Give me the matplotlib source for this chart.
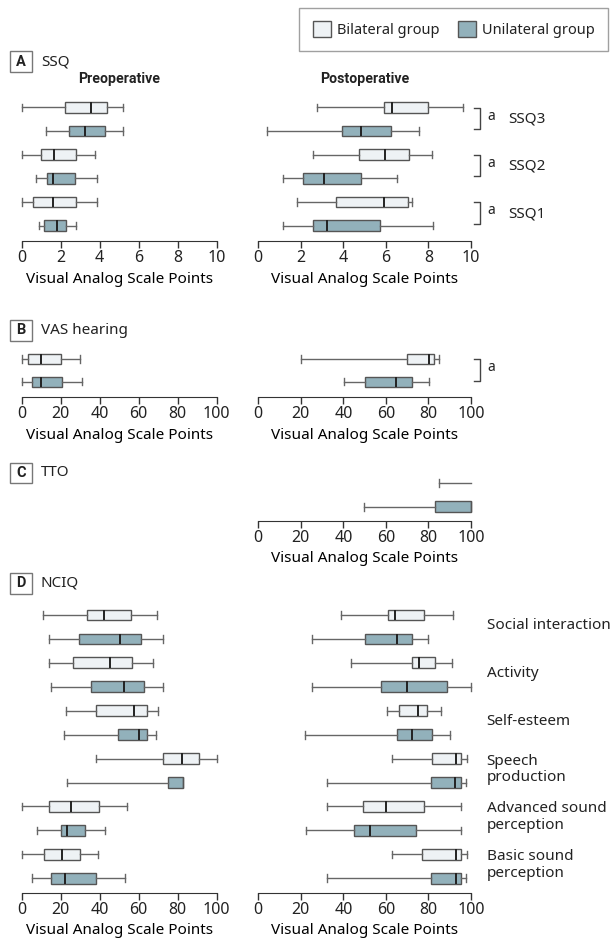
import matplotlib
matplotlib.use('Agg')
import matplotlib.pyplot as plt
from matplotlib.patches import Rectangle, Patch
from matplotlib.lines import Line2D

plt.rcParams['font.family'] = ['Noto Sans', 'DejaVu Sans']
plt.rcParams['text.color'] = '#222222'

# ================= data =================
# every row: [whisker low, Q1, median, Q3, whisker high]
# rows go top -> bottom, bilateral / unilateral alternating
ssq_labels = ['SSQ3', 'SSQ2', 'SSQ1']
ssq_sig = [True, True, True]
ssq_pre = [[0.0, 2.22, 3.54, 4.36, 5.18],
           [1.25, 2.44, 3.26, 4.27, 5.21],
           [0.0, 0.99, 1.68, 2.79, 3.76],
           [0.74, 1.28, 1.62, 2.74, 3.85],
           [0.0, 0.60, 1.59, 2.79, 3.88],
           [0.91, 1.15, 1.79, 2.27, 2.79]]
ssq_post = [[2.74, 5.91, 6.29, 7.96, 9.64],
            [0.42, 3.93, 4.84, 6.22, 7.57],
            [2.55, 4.75, 5.94, 7.10, 8.18],
            [1.18, 2.12, 3.09, 4.84, 6.54],
            [1.80, 3.65, 5.92, 7.05, 7.23],
            [1.14, 2.59, 3.21, 5.72, 8.23]]

vas_sig = [True]
vas_pre = [[0.0, 3.1, 9.7, 20.0, 29.9],
           [0.0, 5.1, 9.7, 20.5, 31.1]]
vas_post = [[20.1, 70.0, 80.3, 82.6, 85.0],
            [40.1, 50.0, 64.7, 72.3, 80.3]]

tto_post = [[85.0, 100.0, 100.0, 100.0, 100.0],
            [49.8, 83.1, 100.0, 100.0, 100.0]]

nciq_labels = ['Social interaction', 'Activity', 'Self-esteem',
               'Speech\nproduction', 'Advanced sound\nperception',
               'Basic sound\nperception']
nciq_pre = [[11.1, 33.7, 42.2, 55.9, 69.6],
            [14.2, 29.2, 50.4, 61.2, 72.6],
            [14.2, 26.5, 45.3, 56.8, 67.5],
            [14.9, 35.4, 52.5, 62.9, 72.6],
            [22.6, 38.1, 57.6, 64.1, 70.1],
            [21.9, 49.6, 60.0, 64.4, 68.7],
            [37.9, 72.3, 82.4, 91.1, 100.0],
            [23.1, 75.0, 82.9, 82.9, 82.9],
            [0.3, 14.2, 25.1, 39.8, 54.2],
            [7.7, 20.2, 23.1, 32.5, 42.7],
            [0.3, 11.6, 20.5, 29.9, 39.0],
            [5.3, 15.0, 22.2, 37.9, 53.0]]
nciq_post = [[38.7, 61.1, 64.1, 77.9, 91.7],
             [25.2, 50.2, 65.2, 72.4, 79.9],
             [43.7, 72.4, 75.5, 83.2, 91.0],
             [25.1, 57.5, 69.9, 88.9, 100.0],
             [60.3, 66.3, 75.2, 79.5, 85.9],
             [22.1, 65.2, 72.4, 81.7, 90.0],
             [62.9, 81.8, 92.9, 95.5, 98.0],
             [32.3, 81.3, 92.5, 95.5, 97.8],
             [32.3, 49.1, 60.2, 78.1, 95.1],
             [22.6, 45.1, 52.4, 74.1, 95.1],
             [63.0, 76.8, 92.9, 95.5, 98.0],
             [32.1, 81.3, 92.8, 95.3, 97.8]]

group_names = ['Bilateral group', 'Unilateral group']
BI_COLOR = '#EEF2F5'
UNI_COLOR = '#92B1BB'
EDGE = '#555555'
FS = 11
BOLD = ['Roboto', 'DejaVu Sans']

# ================= layout (pixels) =================
W, H = 610, 941
fig = plt.figure(figsize=(W / 100, H / 100), dpi=100)

LEFT_X = (21.7, 216.7)
RIGHT_X = (258.3, 471.0)


def panel_axes(xs, row_top, row_bot, n, axis_px, pad=0.7):
    sp = (row_bot - row_top) / (n - 1)
    top_px = row_top - pad * sp
    ax = fig.add_axes([xs[0] / W, 1 - axis_px / H, (xs[1] - xs[0]) / W,
                       (axis_px - top_px) / H])
    ax._ylim_wanted = (n - 1 + (axis_px - row_bot) / sp, -pad)
    return ax


def draw_boxes(ax, rows, xmax):
    stats = [dict(whislo=r[0], q1=r[1], med=r[2], q3=r[3], whishi=r[4], fliers=[])
             for r in rows]
    bp = ax.bxp(stats, positions=list(range(len(rows))), widths=0.45,
                orientation='horizontal', patch_artist=True, showfliers=False,
                capwidths=0.32, manage_ticks=False,
                boxprops=dict(edgecolor=EDGE, linewidth=1.0),
                whiskerprops=dict(color='#666666', linewidth=1.0),
                capprops=dict(color='#666666', linewidth=1.0),
                medianprops=dict(color='#222222', linewidth=1.4))
    for i, b in enumerate(bp['boxes']):
        b.set_facecolor(BI_COLOR if i % 2 == 0 else UNI_COLOR)
    for key in bp:
        for a in bp[key]:
            a.set_clip_on(False)
    # collapsed parts are not drawn
    for i, r in enumerate(rows):
        if r[1] == r[3]:
            bp['boxes'][i].set_visible(False)
            bp['medians'][i].set_visible(False)
        elif r[2] == r[3] or r[2] == r[1]:
            bp['medians'][i].set_color(EDGE)
            bp['medians'][i].set_linewidth(1.0)
        if r[4] == r[3]:
            bp['caps'][2 * i + 1].set_visible(False)
        if r[0] == r[1]:
            bp['caps'][2 * i].set_visible(False)
    ax.set_xlim(0, xmax)
    ax.set_ylim(*ax._ylim_wanted)
    step = 2 if xmax == 10 else 20
    ax.set_xticks(range(0, xmax + 1, step))
    ax.set_yticks([])
    for s in ['left', 'top', 'right']:
        ax.spines[s].set_visible(False)
    ax.spines['bottom'].set_color('#333333')
    ax.tick_params(axis='x', length=5, width=1, color='#333333', pad=1.5,
                   labelsize=FS + 0.5, labelcolor='#222222')
    ax.set_xlabel('Visual Analog Scale Points', fontsize=FS, labelpad=4)
    ax.patch.set_visible(False)


def sig_bracket(ax, y0, y1):
    tr = ax.get_yaxis_transform()
    ax.add_line(Line2D([1.014, 1.042, 1.042, 1.014], [y0, y0, y1, y1],
                       transform=tr, color='#444444', lw=1, clip_on=False))
    ax.text(1.075, (y0 + y1) / 2 - 0.1, 'a', transform=tr, fontsize=FS - 1,
            ha='left', va='center')


def panel_label(letter, title, y):
    fig.add_artist(Rectangle((10 / W, 1 - (y + 10.5) / H), 22 / W, 21 / H,
                             transform=fig.transFigure, fc='white', ec='#777777', lw=1))
    fig.text(21 / W, 1 - y / H, letter, ha='center', va='center',
             fontsize=FS - 0.5, fontweight='bold', family=BOLD)
    fig.text(41 / W, 1 - y / H, title, ha='left', va='center', fontsize=FS)


# ----- A: SSQ -----
panel_label('A', 'SSQ', 61.7)
ax = panel_axes(LEFT_X, 107.3, 225.7, 6, 241)
draw_boxes(ax, ssq_pre, 10)
ax = panel_axes(RIGHT_X, 107.3, 225.7, 6, 241)
draw_boxes(ax, ssq_post, 10)
tr = ax.get_yaxis_transform()
for i, (lab, sig) in enumerate(zip(ssq_labels, ssq_sig)):
    if sig:
        sig_bracket(ax, 2 * i + 0.02, 2 * i + 0.92)
    ax.text(1.174, 2 * i + 0.5, lab, transform=tr, fontsize=FS, ha='left', va='center')
fig.text(sum(LEFT_X) / 2 / W, 1 - 79 / H, 'Preoperative', ha='center', va='center',
         fontsize=FS - 0.8, fontweight='bold', family=BOLD)
fig.text(sum(RIGHT_X) / 2 / W, 1 - 79 / H, 'Postoperative', ha='center', va='center',
         fontsize=FS - 0.8, fontweight='bold', family=BOLD)

# ----- B: VAS hearing -----
panel_label('B', 'VAS hearing', 330)
ax = panel_axes(LEFT_X, 359, 381.7, 2, 397.3)
draw_boxes(ax, vas_pre, 100)
ax = panel_axes(RIGHT_X, 359, 381.7, 2, 397.3)
draw_boxes(ax, vas_post, 100)
if vas_sig[0]:
    sig_bracket(ax, 0.02, 0.95)

# ----- C: TTO -----
panel_label('C', 'TTO', 473)
ax = panel_axes(RIGHT_X, 482.7, 506.7, 2, 520.7)
draw_boxes(ax, tto_post, 100)

# ----- D: NCIQ -----
panel_label('D', 'NCIQ', 583.3)
ax = panel_axes(LEFT_X, 615, 878.3, 12, 892.7)
draw_boxes(ax, nciq_pre, 100)
ax = panel_axes(RIGHT_X, 615, 878.3, 12, 892.7)
draw_boxes(ax, nciq_post, 100)
tr = ax.get_yaxis_transform()
for i, lab in enumerate(nciq_labels):
    ax.text(1.074, 2 * i + 0.45, lab, transform=tr, fontsize=FS, ha='left',
            va='center', linespacing=1.15)

# ----- legend -----
handles = [Patch(facecolor=BI_COLOR, edgecolor=EDGE, label=group_names[0]),
           Patch(facecolor=UNI_COLOR, edgecolor=EDGE, label=group_names[1])]
fig.legend(handles=handles, ncol=2, loc='upper right',
           bbox_to_anchor=(608 / W, 1 - 8 / H), fontsize=FS - 0.5,
           frameon=True, fancybox=False, edgecolor='#888888',
           handlelength=1.25, handleheight=1.25, handletextpad=0.4,
           columnspacing=1.3, borderpad=0.9, borderaxespad=0)

fig.savefig('out.png', dpi=100)
